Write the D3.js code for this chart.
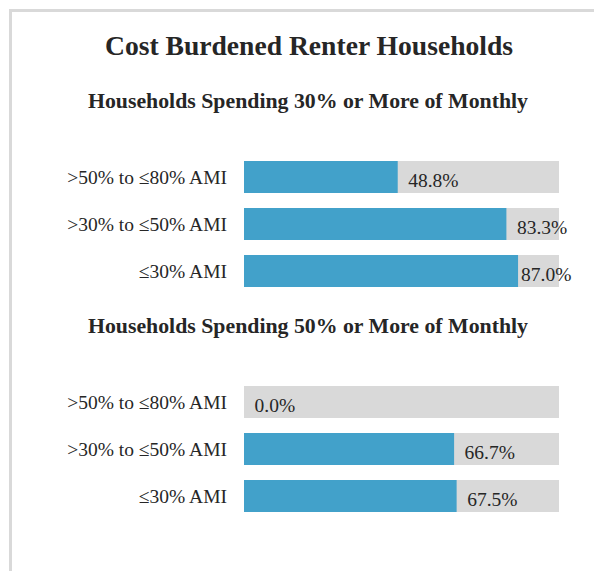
<!DOCTYPE html>
<html><head><meta charset="utf-8">
<script src="https://cdn.jsdelivr.net/npm/d3@7"></script>
<style>html,body{margin:0;padding:0;background:#fff;}svg{display:block;}</style>
</head><body>
<svg id="c" width="594" height="571"></svg>
<script>
const title = "Cost Burdened Renter Households";
const subtitles = ["Households Spending 30% or More of Monthly", "Households Spending 50% or More of Monthly"];
const categories = [">50% to ≤80% AMI", ">30% to ≤50% AMI", "≤30% AMI"];
const values30 = [48.8, 83.3, 87.0];
const values50 = [0.0, 66.7, 67.5];
const domainMax = 100;

const svg = d3.select("#c");
const font = "'Liberation Serif', 'DejaVu Serif', serif";
const txt = "#262626";

// frame
svg.append("path").attr("d", "M10.5,571 L10.5,10.5 L594,10.5")
  .attr("fill", "none").attr("stroke", "#d9d9d9").attr("stroke-width", 3);

svg.append("text").attr("x", 309).attr("y", 55).attr("text-anchor", "middle")
  .attr("font-family", font).attr("font-weight", "bold").attr("font-size", 27.6)
  .attr("fill", txt).text(title);

const x = d3.scaleLinear().domain([0, domainMax]).range([244, 559]);

const panels = [
  {sub: subtitles[0], vals: values30, subY: 108, top: 161},
  {sub: subtitles[1], vals: values50, subY: 333, top: 386}
];

panels.forEach(p => {
  svg.append("text").attr("x", 308).attr("y", p.subY).attr("text-anchor", "middle")
    .attr("font-family", font).attr("font-weight", "bold").attr("font-size", 21.8)
    .attr("fill", txt).text(p.sub);
  const y = d3.scaleBand().domain(categories).range([p.top, p.top + 126])
    .paddingInner(15/47).paddingOuter(0);
  const g = svg.append("g");
  categories.forEach((c, i) => {
    const v = p.vals[i];
    g.append("rect").attr("x", x(0)).attr("y", y(c)).attr("width", x(domainMax) - x(0))
      .attr("height", y.bandwidth()).attr("fill", "#d9d9d9");
    g.append("rect").attr("x", x(0)).attr("y", y(c)).attr("width", x(v) - x(0))
      .attr("height", y.bandwidth()).attr("fill", "#42a1ca");
    g.append("text").attr("x", 227).attr("y", y(c) + y.bandwidth()/2).attr("dy", "0.35em")
      .attr("text-anchor", "end").attr("font-family", font).attr("font-size", 19.5)
      .attr("fill", txt).text(c);
    g.append("text").attr("x", Math.min(x(v) + 10.5, 521)).attr("y", y(c) + y.bandwidth()/2 + 3).attr("dy", "0.35em")
      .attr("font-family", font).attr("font-size", 19.5)
      .attr("fill", txt).text(d3.format(".1f")(v) + "%");
  });
});
</script>
</body></html>
